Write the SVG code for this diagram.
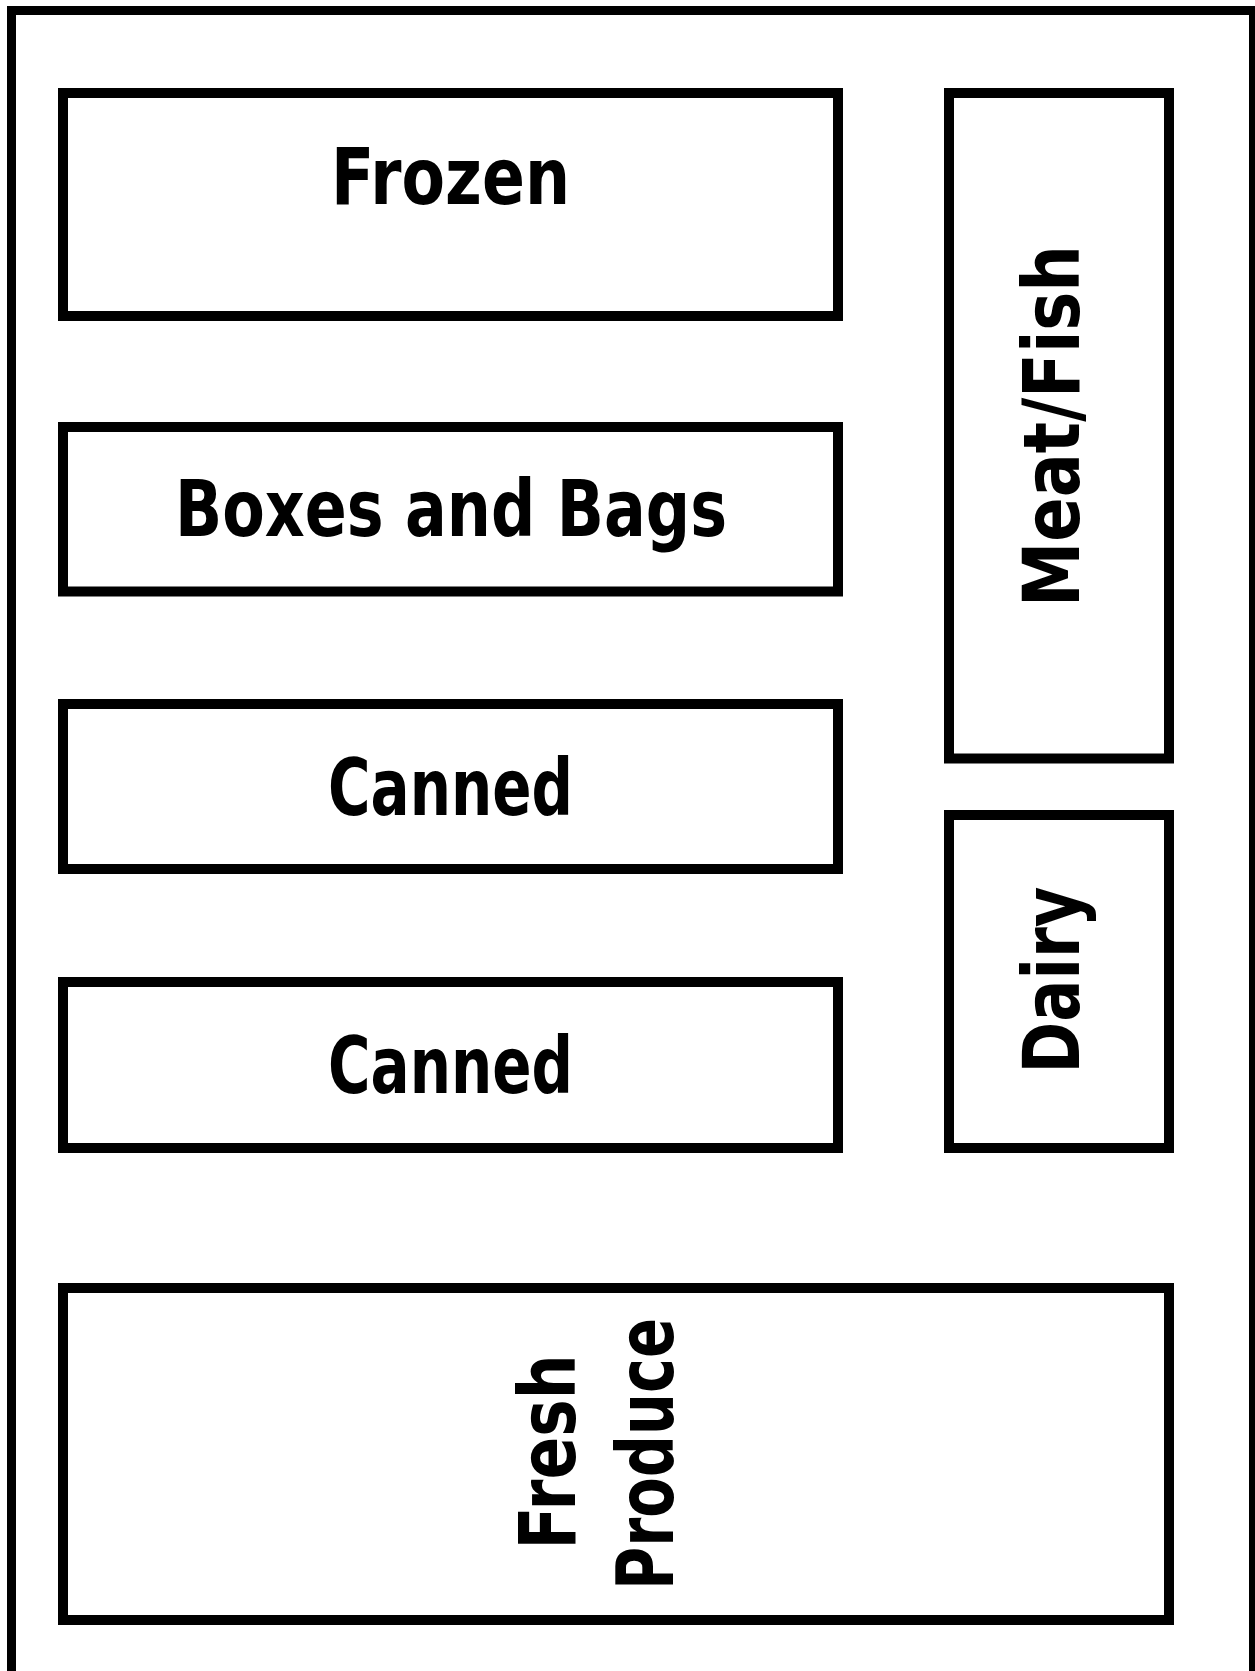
<svg xmlns="http://www.w3.org/2000/svg" width="1255" height="1671" viewBox="0 0 1255 1671">
<style>
.box{fill:#fff;stroke:#000;stroke-width:10}
.lbl{font-family:"Comic Sans MS","DejaVu Sans",sans-serif;font-weight:bold;font-size:79px;fill:#000;text-anchor:middle}
</style>
<rect x="0" y="0" width="1255" height="1671" fill="#fff"/>
<g id="store"><rect x="11.5" y="10.5" width="1242" height="1675" fill="#fff" stroke="#000" stroke-width="9"/></g>
<g id="frozen"><rect class="box" x="63" y="93" width="775" height="223"/><text class="lbl" x="450.5" y="204" textLength="239" lengthAdjust="spacingAndGlyphs">Frozen</text></g>
<g id="boxes"><rect class="box" x="63" y="427" width="775" height="164.5"/><text class="lbl" x="451" y="536" textLength="552" lengthAdjust="spacingAndGlyphs">Boxes and Bags</text></g>
<g id="canned1"><rect class="box" x="63" y="704" width="775" height="165"/><text class="lbl" x="450.5" y="815" textLength="245" lengthAdjust="spacingAndGlyphs">Canned</text></g>
<g id="canned2"><rect class="box" x="63" y="982" width="775" height="166"/><text class="lbl" x="450.5" y="1093" textLength="245" lengthAdjust="spacingAndGlyphs">Canned</text></g>
<g id="meat"><rect class="box" x="949" y="93" width="220" height="665.5"/><text class="lbl" transform="translate(1079 426) rotate(-90)" x="0" y="0" textLength="362" lengthAdjust="spacingAndGlyphs">Meat/Fish</text></g>
<g id="dairy"><rect class="box" x="949" y="815" width="220" height="333"/><text class="lbl" transform="translate(1079 980) rotate(-90)" x="0" y="0" textLength="187" lengthAdjust="spacingAndGlyphs">Dairy</text></g>
<g id="produce"><rect class="box" x="63" y="1288" width="1106" height="332"/><text class="lbl" transform="translate(575 1452) rotate(-90)" x="0" y="0" textLength="195" lengthAdjust="spacingAndGlyphs">Fresh</text><text class="lbl" transform="translate(673 1454) rotate(-90)" x="0" y="0" textLength="272" lengthAdjust="spacingAndGlyphs">Produce</text></g>
<g id="connectors"></g>
</svg>
